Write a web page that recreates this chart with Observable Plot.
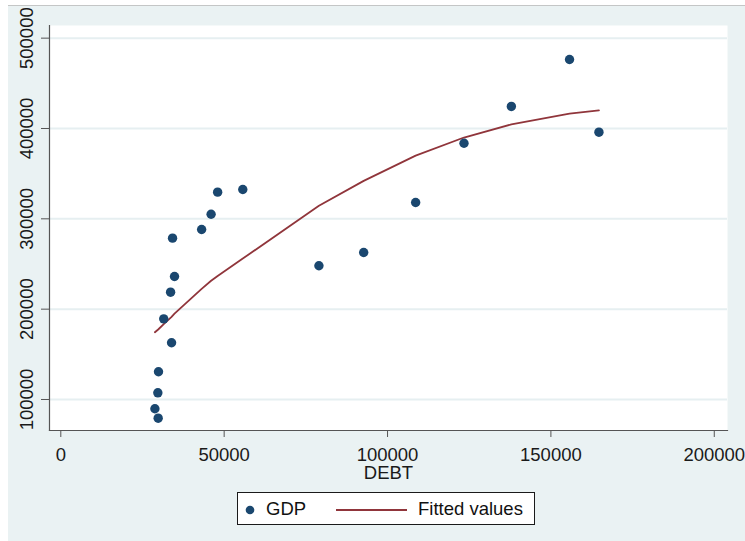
<!DOCTYPE html>
<html>
<head>
<meta charset="utf-8">
<script src="https://cdn.jsdelivr.net/npm/d3@7"></script>
<script src="https://cdn.jsdelivr.net/npm/@observablehq/plot@0.6"></script>
<style>
  html, body { margin: 0; padding: 0; background: #ffffff; }
  #wrap { position: relative; width: 745px; height: 541px; overflow: hidden; font-family: "Liberation Sans", Arial, sans-serif; }
  #bg { position: absolute; left: 8px; top: 5px; right: 0; bottom: 0; background: #eaf2f3; border-top: 1.5px solid #c4c6c6; }
  #chart { position: absolute; left: 0; top: 0; }
  #legend { position: absolute; left: 237px; top: 492px; width: 298px; height: 33px; background: #fff; border: 1px solid #1a1a1a; box-sizing: border-box; font-size: 18.5px; color: #111; }
  #legend .t { position: absolute; top: 50%; transform: translateY(-50%); white-space: nowrap; line-height: 1; }
  #legend svg { position: absolute; left: 0; top: 0; }
</style>
</head>
<body>
<div id="wrap">
  <div id="bg"></div>
  <div id="chart"></div>
  <div id="legend"></div>
</div>
<script>
const debt = [28800, 29800, 29700, 29900, 31500, 33900, 33600, 34800, 34200, 43100,
              46000, 48000, 55700, 79000, 92700, 108600, 123400, 137900, 155700, 164700];
const gdp  = [89700, 79300, 107400, 130700, 189300, 162800, 218800, 236200, 278600, 288200,
              305100, 329500, 332500, 248000, 262700, 318100, 383700, 424400, 476400, 395900];

// Fitted values
const fitDebt   = [28800, 29800, 31500, 33900, 34800, 43100, 46000, 48000, 55700, 79000,
                   92700, 108600, 123400, 137900, 155700, 164700];
const fitValues = [174500, 177500, 183500, 191500, 195000, 222500, 231400, 236800, 256000, 314500,
                   342000, 370000, 390000, 404500, 416500, 420000];

const xTicks = [0, 50000, 100000, 150000, 200000];
const yTicks = [100000, 200000, 300000, 400000, 500000];
const xTitle = "DEBT";
const seriesNames = ["GDP", "Fitted values"];

const navy = "#1a476f";
const maroon = "#90353b";

const points = debt.map((d, i) => ({debt: d, gdp: gdp[i]}));
const fit = fitDebt.map((d, i) => ({debt: d, fit: fitValues[i]}));

const chart = Plot.plot({
  width: 745,
  height: 485,
  marginLeft: 49,
  marginRight: 18,
  marginTop: 25,
  marginBottom: 55,
  style: {background: "transparent", fontFamily: "'Liberation Sans', Arial, sans-serif", fontSize: "18.5px", color: "#1a1a1a"},
  x: {domain: [-3460, 204050]},
  y: {domain: [65680, 514000]},
  marks: [
    Plot.frame({fill: "white", stroke: null}),
    Plot.gridY(yTicks, {stroke: "#e6eff1", strokeOpacity: 1, strokeWidth: 2}),
    Plot.axisX(xTicks, {tickSize: 7, tickPadding: 10, label: null, tickFormat: d => String(d), stroke: "#555"}),
    Plot.text([xTitle], {frameAnchor: "bottom", dy: 42.5, text: d => d, lineAnchor: "middle", fill: "#1a1a1a"}),
    Plot.axisY(yTicks, {tickSize: 8, label: null, tickFormat: () => "", stroke: "#555"}),
    Plot.text(yTicks, {y: d => d, frameAnchor: "left", dx: -22.5, rotate: -90, text: d => String(d), lineAnchor: "middle", textAnchor: "middle", fill: "#1a1a1a"}),
    Plot.frame({anchor: "left", stroke: "#555", strokeWidth: 1.2}),
    Plot.frame({anchor: "bottom", stroke: "#555", strokeWidth: 1.2}),
    Plot.line(fit, {x: "debt", y: "fit", stroke: maroon, strokeWidth: 1.8}),
    Plot.dot(points, {x: "debt", y: "gdp", r: 4.7, fill: navy, stroke: "none"})
  ]
});
document.getElementById("chart").appendChild(chart);

// Legend
const legend = document.getElementById("legend");
legend.innerHTML = `
  <svg width="298" height="33">
    <circle cx="12" cy="17" r="4.3" fill="${navy}"></circle>
    <line x1="98" x2="169" y1="17" y2="17" stroke="${maroon}" stroke-width="2"></line>
  </svg>
  <span class="t" style="left:28px">${seriesNames[0]}</span>
  <span class="t" style="left:180px">${seriesNames[1]}</span>`;
</script>
</body>
</html>
